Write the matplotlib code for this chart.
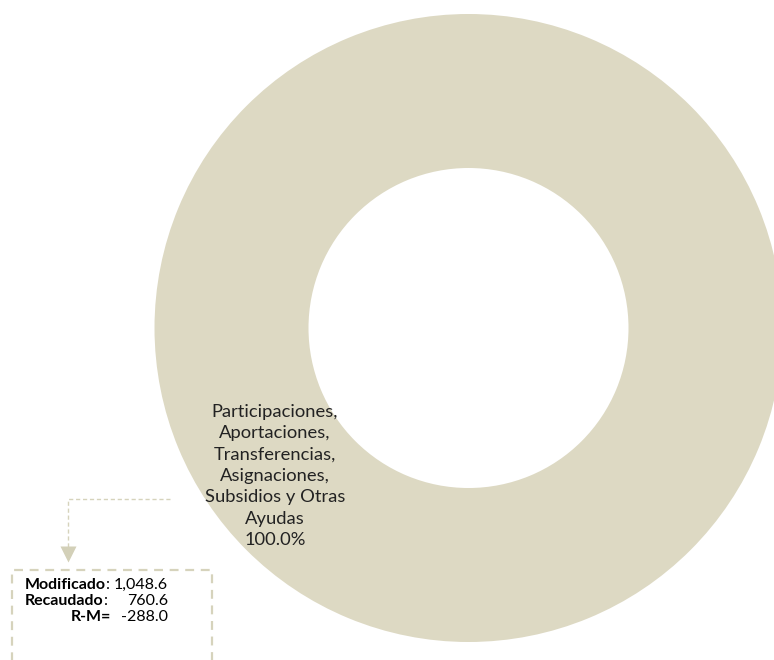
import matplotlib.pyplot as plt
from matplotlib.patches import Rectangle

# Datos
categorias = ['Participaciones,\nAportaciones,\nTransferencias,\nAsignaciones,\nSubsidios y Otras\nAyudas']
valores = [760.6]
modificado = 1048.6
recaudado = 760.6
diferencia = -288.0

color_anillo = '#DDD9C3'
color_linea = '#D6D3BC'

plt.rcParams['font.family'] = ['Lato', 'DejaVu Sans']

W, H = 774, 660
fig = plt.figure(figsize=(W / 100, H / 100), dpi=100)
ax = fig.add_axes([0, 0, 1, 1])


def etiqueta(pct):
    return f'{categorias[0]}\n{pct:.1f}%'


wedges, textos, pcts = ax.pie(
    valores, center=(468.5, H - 328), radius=314, startangle=37.4,
    colors=[color_anillo], autopct=etiqueta, pctdistance=0.776,
    wedgeprops=dict(width=154, edgecolor='none'), frame=True,
    textprops=dict(fontsize=13.2, color='#222222', linespacing=1.42))
ax.set_xlim(0, W)
ax.set_ylim(0, H)
ax.axis('off')
ax.set_aspect('auto')

# Línea de referencia con flecha
ax.plot([170, 68, 68], [H - 499, H - 499, H - 550], ls=(0, (3, 2)),
        color=color_linea, lw=1)
ax.plot([68], [H - 554], marker='v', ms=12, color='#D3D0B8', mec='none')

# Cuadro con totales
ax.add_patch(Rectangle((12, H - 700), 200, 130, fill=False, ls=(0, (4, 3)),
                       ec=color_linea, lw=1.6, clip_on=False))

fs = 11.5
filas = [('Modificado', ':', f'{modificado:,.1f}', 585),
         ('Recaudado', ':', f'{recaudado:,.1f}', 601)]
for nombre, sep, valor, y in filas:
    t = ax.text(25, H - y, nombre, fontsize=fs, fontweight='bold', va='center')
    ax.annotate(sep, xy=(1, 0.5), xycoords=t, fontsize=fs, va='center', ha='left')
    ax.text(168, H - y, valor, fontsize=fs, va='center', ha='right')
ax.text(111, H - 617, 'R-M=', fontsize=fs, fontweight='bold', va='center', ha='right')
ax.text(168, H - 617, f'{diferencia:,.1f}', fontsize=fs, va='center', ha='right')

fig.savefig('out.png', dpi=100)
